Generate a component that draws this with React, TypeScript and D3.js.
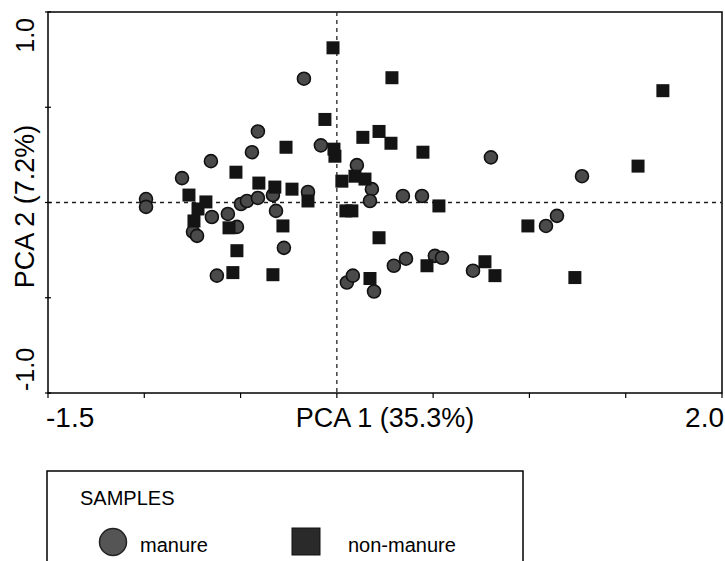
import React from "react";
import * as d3 from "d3";

// PCA scores: [PC1, PC2]
const manure: [number, number][] = [
  [-0.171, 0.65], [-0.41, 0.373], [-0.083, 0.3], [-0.441, 0.264], [-0.654, 0.217],
  [-0.804, 0.128], [-0.15, 0.055], [0.104, 0.196], [0.8, 0.237], [1.273, 0.138],
  [0.343, 0.034], [0.442, 0.034], [0.182, 0.07], [0.172, 0.008], [-0.991, 0.018],
  [-0.991, -0.023], [-0.747, -0.154], [-0.726, -0.175], [-0.649, -0.076], [-0.566, -0.06],
  [-0.519, -0.128], [-0.498, -0.008], [-0.467, 0.008], [-0.41, 0.024], [-0.332, 0.039],
  [-0.316, -0.044], [-0.275, -0.238], [-0.623, -0.384], [0.052, -0.42], [0.083, -0.384],
  [0.193, -0.467], [0.296, -0.332], [0.359, -0.295], [0.509, -0.28], [0.546, -0.29],
  [0.707, -0.358], [1.086, -0.123], [1.143, -0.07],
];

const nonManure: [number, number][] = [
  [-0.02, 0.812], [-0.062, 0.436], [-0.264, 0.29], [-0.015, 0.28], [-0.01, 0.243],
  [-0.524, 0.159], [-0.405, 0.102], [-0.322, 0.081], [-0.233, 0.07], [0.026, 0.112],
  [0.094, 0.138], [0.146, 0.123], [0.135, 0.342], [0.219, 0.373], [0.281, 0.311],
  [0.286, 0.655], [0.447, 0.264], [1.693, 0.587], [1.564, 0.191], [-0.768, 0.039],
  [-0.68, 0.003], [-0.721, -0.034], [-0.742, -0.097], [-0.56, -0.133], [-0.15, 0.008],
  [-0.28, -0.123], [-0.519, -0.253], [-0.54, -0.368], [-0.332, -0.379], [0.047, -0.044],
  [0.078, -0.044], [0.53, -0.018], [0.992, -0.123], [0.219, -0.185], [0.172, -0.399],
  [0.468, -0.332], [0.769, -0.311], [0.821, -0.384], [1.236, -0.394],
];

const xTicks = [-1.5, -1.0, -0.5, 0, 0.5, 1.0, 1.5, 2.0];
const yTicks = [-1.0, -0.5, 0, 0.5, 1.0];
const legendLabels = ["manure", "non-manure"];

const font = "'Liberation Sans', Arial, sans-serif";

export default function App() {
  const x = d3.scaleLinear().domain([-1.5, 2.0]).range([48, 722]);
  const y = d3.scaleLinear().domain([-1.0, 1.0]).range([393, 12]);
  const sq = 13;

  return (
    <svg
      width={725}
      height={561}
      style={{ position: "absolute", left: 0, top: 0, background: "#fff" }}
      fontFamily={font}
    >
      {/* frame */}
      <rect x={48} y={12} width={674} height={381} fill="none" stroke="#000" strokeWidth={1.5} />

      {/* origin lines */}
      <line x1={x(-1.5)} x2={x(2.0)} y1={y(0)} y2={y(0)} stroke="#222" strokeWidth={1.3} strokeDasharray="4,4" />
      <line x1={x(0)} x2={x(0)} y1={y(1)} y2={y(-1)} stroke="#222" strokeWidth={1.3} strokeDasharray="4,4" />

      {/* ticks */}
      {xTicks.map((t) => (
        <line key={"xt" + t} x1={x(t)} x2={x(t)} y1={y(-1)} y2={y(-1) + 5} stroke="#000" strokeWidth={1.2} />
      ))}
      {yTicks.map((t) => (
        <line key={"yt" + t} x1={x(-1.5) - 3} x2={x(-1.5) + 3} y1={y(t)} y2={y(t)} stroke="#000" strokeWidth={1.2} />
      ))}

      {/* axis labels */}
      <text x={x(-1.5) - 2} y={427} fontSize={28} textAnchor="start">-1.5</text>
      <text x={x(2.0) + 2} y={427} fontSize={28} textAnchor="end">2.0</text>
      <text x={(x(-1.5) + x(2.0)) / 2} y={427} fontSize={27} textAnchor="middle">PCA 1 (35.3%)</text>

      <text transform={`translate(34,${y(1) + 6}) rotate(-90)`} fontSize={25} textAnchor="end">1.0</text>
      <text transform={`translate(34,${y(-1) - 2}) rotate(-90)`} fontSize={25} textAnchor="start">-1.0</text>
      <text transform={`translate(34,${y(0) + 4}) rotate(-90)`} fontSize={27} textAnchor="middle">PCA 2 (7.2%)</text>

      {/* points */}
      {manure.map(([a, b], i) => (
        <circle key={"m" + i} cx={x(a)} cy={y(b)} r={6.5} fill="#4a4a4a" stroke="#111" strokeWidth={1.6} />
      ))}
      {nonManure.map(([a, b], i) => (
        <rect key={"n" + i} x={x(a) - sq / 2} y={y(b) - sq / 2} width={sq} height={sq} fill="#141414" />
      ))}

      {/* legend */}
      <rect x={47} y={471} width={476} height={120} fill="none" stroke="#000" strokeWidth={1.5} />
      <text x={80} y={505} fontSize={20}>SAMPLES</text>
      <circle cx={113} cy={542} r={13.5} fill="#555" stroke="#222" strokeWidth={1.5} />
      <text x={140} y={552} fontSize={20}>{legendLabels[0]}</text>
      <rect x={292} y={528} width={28} height={27} fill="#2a2a2a" stroke="#111" />
      <text x={348} y={552} fontSize={20}>{legendLabels[1]}</text>
    </svg>
  );
}
